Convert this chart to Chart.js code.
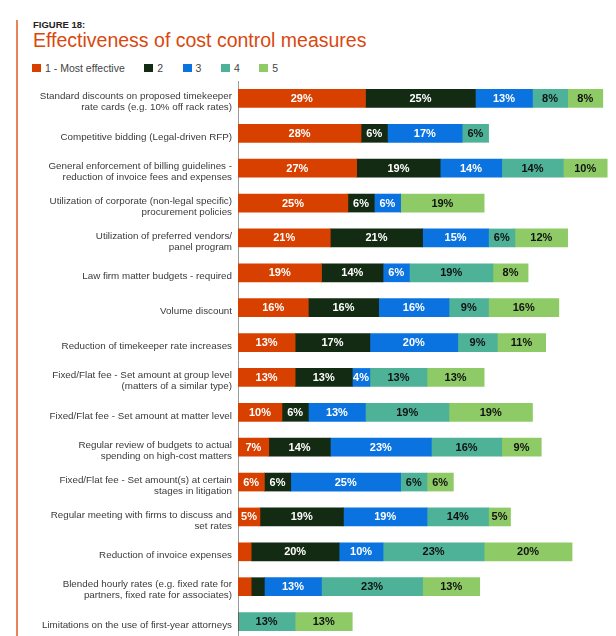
<!DOCTYPE html>
<html>
<head>
<meta charset="utf-8">
<script src="https://cdn.jsdelivr.net/npm/chart.js@4"></script>
<style>
  html, body { margin: 0; padding: 0; background: #fff; overflow: hidden; }
  #page { position: relative; width: 616px; height: 636px; overflow: hidden; font-family: "Liberation Sans", Arial, sans-serif; }
  #edge { position: absolute; left: 16px; top: 20px; width: 2px; height: 620px; background: #E98358; }
  #fig { position: absolute; left: 33px; top: 19.7px; font-size: 9.5px; line-height: 1; font-weight: bold; color: #222; }
  #title { position: absolute; left: 33px; top: 30.8px; font-size: 19.5px; line-height: 1; color: #D9480F; }
  #legend { position: absolute; left: 32px; top: 62.6px; display: flex; gap: 19.5px; font-size: 10.5px; line-height: 1; color: #444; }
  #legend span.item { display: flex; align-items: center; }
  #legend i { display: inline-block; width: 9px; height: 8.5px; margin-right: 4px; }
  #chart { position: absolute; left: 0; top: 76px; }
</style>
</head>
<body>
<div id="page">
  <div id="edge"></div>
  <div id="fig">FIGURE 18:</div>
  <div id="title">Effectiveness of cost control measures</div>
  <div id="legend"></div>
  <canvas id="chart" width="616" height="563"></canvas>
</div>
<script>
// categories (multi-line labels as in the figure)
const categories = [
    ['Standard discounts on proposed timekeeper', 'rate cards (e.g. 10% off rack rates)'],
    'Competitive bidding (Legal-driven RFP)',
    ['General enforcement of billing guidelines -', 'reduction of invoice fees and expenses'],
    ['Utilization of corporate (non-legal specific)', 'procurement policies'],
    ['Utilization of preferred vendors/', 'panel program'],
    'Law firm matter budgets - required',
    'Volume discount',
    'Reduction of timekeeper rate increases',
    ['Fixed/Flat fee - Set amount at group level', '(matters of a similar type)'],
    'Fixed/Flat fee - Set amount at matter level',
    ['Regular review of budgets to actual', 'spending on high-cost matters'],
    ['Fixed/Flat fee - Set amount(s) at certain', 'stages in litigation'],
    ['Regular meeting with firms to discuss and', 'set rates'],
    'Reduction of invoice expenses',
    ['Blended hourly rates (e.g. fixed rate for', 'partners, fixed rate for associates)'],
    'Limitations on the use of first-year attorneys'
];

const seriesNames = ['1 - Most effective', '2', '3', '4', '5'];

// percent of respondents per rank
const rank1 = [29, 28, 27, 25, 21, 19, 16, 13, 13, 10, 7, 6, 5, 3, 3, 0];
const rank2 = [25, 6, 19, 6, 21, 14, 16, 17, 13, 6, 14, 6, 19, 20, 3, 0];
const rank3 = [13, 17, 14, 6, 15, 6, 16, 20, 4, 13, 23, 25, 19, 10, 13, 0];
const rank4 = [8, 6, 14, 0, 6, 19, 9, 9, 13, 19, 16, 6, 14, 23, 23, 13];
const rank5 = [8, 0, 10, 19, 12, 8, 16, 11, 13, 19, 9, 6, 5, 20, 13, 13];

const colors = ['#D84000', '#132B12', '#0B73E0', '#4DB298', '#8ECB66'];
const labelColors = ['#fff', '#fff', '#fff', '#111', '#111'];
const allSeries = [rank1, rank2, rank3, rank4, rank5];

// legend (html, built from the series arrays)
const legendEl = document.getElementById('legend');
seriesNames.forEach((name, i) => {
    const item = document.createElement('span');
    item.className = 'item';
    item.innerHTML = `<i style="background:${colors[i]}"></i>${name}`;
    legendEl.appendChild(item);
});

// draws the % labels inside each segment
const segmentLabels = {
    id: 'segmentLabels',
    afterDatasetsDraw(chart) {
        const ctx = chart.ctx;
        ctx.save();
        ctx.font = 'bold 11px "Liberation Sans", Arial, sans-serif';
        ctx.textAlign = 'center';
        ctx.textBaseline = 'middle';
        chart.data.datasets.forEach((ds, di) => {
            const meta = chart.getDatasetMeta(di);
            meta.data.forEach((bar, i) => {
                const v = ds.data[i];
                if (v < 4) return;
                const { x, y, base } = bar.getProps(['x', 'y', 'base'], true);
                ctx.fillStyle = labelColors[di];
                ctx.fillText(v + '%', (x + base) / 2, y + 0.5);
            });
        });
        ctx.restore();
    }
};

new Chart(document.getElementById('chart'), {
    type: 'bar',
    data: {
        labels: categories,
        datasets: allSeries.map((data, i) => ({
            label: seriesNames[i],
            data,
            backgroundColor: colors[i],
            borderWidth: 0,
            barThickness: 18
        }))
    },
    options: {
        indexAxis: 'y',
        responsive: false,
        animation: false,
        layout: { padding: { top: 5, bottom: 0, left: 0, right: 0 } },
        plugins: {
            legend: { display: false },
            tooltip: { enabled: false }
        },
        scales: {
            x: {
                stacked: true,
                display: false,
                min: 0,
                max: 86
            },
            y: {
                stacked: true,
                grid: { display: false, drawTicks: false },
                border: { display: true, color: '#9a9a9a', width: 1 },
                ticks: {
                    padding: 6,
                    labelOffset: 3.5,
                    color: '#3a3a3a',
                    font: { family: '"Liberation Sans", Arial, sans-serif', size: 9.8, lineHeight: 1.12 }
                },
                afterFit(scale) {
                    scale.width = 238;
                    scale.paddingTop = 0;
                    scale.paddingBottom = 0;
                }
            }
        }
    },
    plugins: [segmentLabels]
});
</script>
</body>
</html>
